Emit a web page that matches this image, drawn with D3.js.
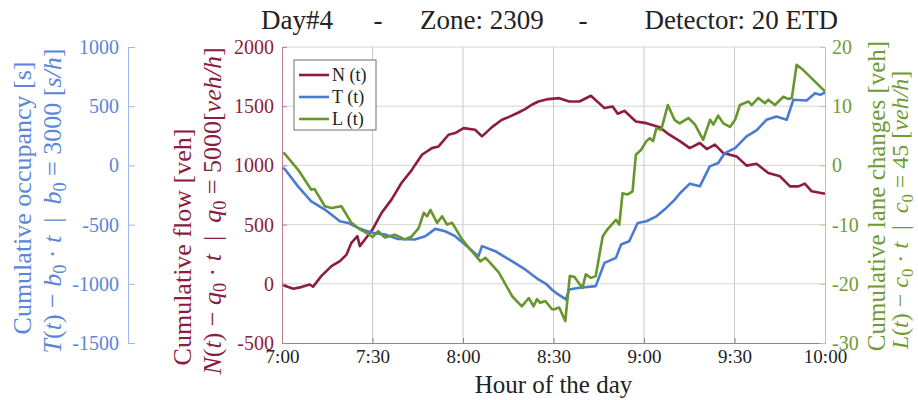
<!DOCTYPE html>
<html>
<head>
<meta charset="utf-8">
<script src="https://cdn.jsdelivr.net/npm/d3@7"></script>
<style>
  body { margin: 0; background: #fff; }
  svg text { font-family: "Liberation Serif", "Times New Roman", serif; }
</style>
</head>
<body>
<svg id="chart"></svg>
<script>
// Tick labels
const xTickLabels = ["7:00", "7:30", "8:00", "8:30", "9:00", "9:30", "10:00"];
const flowTicks = [-500, 0, 500, 1000, 1500, 2000];
const occTicks = [-1500, -1000, -500, 0, 500, 1000];
const laneTicks = [-30, -20, -10, 0, 10, 20];

// N(t) - q0*t  (minutes after 7:00, veh)
const nMinutes = [0, 0.7, 3.7, 6.4, 9.2, 10.3, 13, 16.4, 19.2, 21.4, 23, 25, 25.8, 27.5, 30, 33, 36.3, 39.6, 43, 44,
  46.4, 49.7, 51.9, 55.2, 57.4, 60.2, 64, 66.3, 69.6, 72.9, 75.1, 78.4, 80.6, 82.8, 85, 88.3, 91.9, 95.2, 98.6,
  102.4, 106.9, 109.6, 111.3, 113.5, 117.3, 120.8, 125.2, 128.4, 132, 135.2, 138.5, 140.8, 143.5, 146.3, 150.7,
  154, 157.3, 161.2, 165.1, 168.4, 171.2, 173.3, 175.6, 180];
const nFlow = [-5, -14, -42, -28, -6, -25, 65, 149, 191, 247, 346, 402, 318, 374, 458, 599, 711, 851, 960, 1000,
  1090, 1146, 1160, 1259, 1273, 1315, 1301, 1245, 1323, 1385, 1408, 1447, 1475, 1512, 1540, 1560, 1568, 1540, 1540,
  1588, 1484, 1498, 1436, 1461, 1371, 1357, 1323, 1259, 1203, 1146, 1189, 1138, 1175, 1104, 1076,
  998, 1014, 936, 908, 823, 823, 846, 781, 761];

// T(t) - b0*t  (minutes after 7:00, s)
const tMinutes = [0, 0.9, 5.3, 9.7, 14.2, 19.2, 21.9, 25.2, 30, 34.1, 38.5, 44, 47.5, 50.8, 54.1, 57.4, 61.3, 65.1,
  66.3, 70.7, 76.2, 80.6, 85, 87.5, 89.5, 90.8, 94.1, 95.2, 98.6, 104, 106.9, 110.7, 112.4, 115.1, 117.9, 120.8,
  124.1, 127.4, 130.2, 132, 135.2, 138.5, 141.8, 144.6, 146.8, 150.2, 154, 157.3, 160.6, 163.9, 167.3, 169.5,
  173.9, 176.7, 178.4, 180];
const tOccupancy = [-20, -31, -177, -303, -373, -472, -486, -528, -570, -584, -621, -626, -598, -536, -556, -598, -682, -767,
  -682, -725, -809, -879, -963, -1000, -1050, -1076, -1132, -1048, -1034, -1020, -823, -781, -668, -640, -486, -472,
  -430, -359, -289, -233, -154, -177, -8, 20, 104, 146, 245, 295, 385, 413, 385, 554,
  548, 610, 596, 616];

// L(t) - c0*t  (minutes after 7:00, veh)
const lMinutes = [0.5, 5.3, 9.7, 10.8, 14.2, 16.4, 19.7, 23, 25.8, 28, 30, 31.9, 34.1, 37.4, 40.7, 43, 45.3, 47, 48.1,
  49.2, 51.4, 53.1, 54.7, 56.4, 59.7, 62.4, 65.8, 67.4, 69.1, 71.9, 76.3, 79.5, 81.8, 83.4, 84.5, 85.6, 87.3, 89.5,
  90.3, 91.9, 93.9, 95.4, 96.9, 99.6, 100.7, 102.4, 104, 106.3, 107.9, 110.7, 111.8, 112.9, 114.6, 116.2, 117.3,
  119, 120.8, 121.9, 123, 124.1, 125.7, 127.9, 130.1, 131.8, 134.7, 136.9, 139.6, 141.9, 143, 144.6, 146.3, 148.5,
  150.2, 151.8, 154.6, 155.7, 157.9, 160.1, 161.2, 163.4, 166.2, 167.9, 169, 170.6, 172.8, 175, 180];
const lLaneChanges = [2.2, -0.7, -4.1, -4.0, -6.9, -7.2, -6.9, -9.7, -10.8, -11.4, -12.1, -11.1, -12.2, -11.7, -12.5, -12.0, -10.6, -8.0, -8.6,
  -7.5, -9.7, -8.6, -10.0, -9.7, -12.5, -14.2, -16.2, -15.6, -16.5, -18.1, -22.1, -23.8, -22.4, -23.8, -22.6, -23.2, -22.9, -24.3,
  -24.3, -24.0, -26.3, -18.7, -18.8, -20.7, -18.4, -19.0, -18.7, -12.0, -10.8, -9.2, -10.0, -4.7, -4.9, -4.4, 1.8,
  2.6, 4.1, 4.6, 4.1, 6.3, 6.0, 10.2, 7.7, 7.1, 8.0, 6.9, 4.3, 7.7, 6.9, 8.4, 7.1, 6.5,
  7.7, 10.2, 10.8, 10.2, 11.4, 10.5, 11.1, 10.2, 11.6, 11.2, 11.4, 17.0, 16.1, 15.0, 12.5];

const red = "#8c1c40", blue = "#4a7bd2", green = "#67972c";
const blueText = "#5a87d8", greenText = "#6f9b34";

const margin = { top: 47, right: 93, bottom: 57, left: 282 },
      width = 918 - margin.left - margin.right,
      height = 400 - margin.top - margin.bottom;

const svg = d3.select("#chart").attr("width", 918).attr("height", 400);
const g = svg.append("g").attr("transform", `translate(${margin.left},${margin.top})`);

const parseTime = d3.timeParse("%H:%M");
const atMinute = m => new Date(parseTime("7:00").getTime() + m * 60000);
const xTicks = xTickLabels.map(parseTime);

// Scales
const x = d3.scaleTime().domain([parseTime("7:00"), parseTime("10:00")]).range([0, width]);
const yN = d3.scaleLinear().domain([-500, 2000]).range([height, 0]);
const yT = d3.scaleLinear().domain([-1500, 1000]).range([height, 0]);
const yL = d3.scaleLinear().domain([-30, 20]).range([height, 0]);

// Grid
g.append("g").selectAll("line").data(xTicks.slice(1, -1)).join("line")
  .attr("x1", d => x(d)).attr("x2", d => x(d)).attr("y1", 0).attr("y2", height)
  .attr("stroke", "#c9c9c9").attr("stroke-width", 1);
g.append("g").selectAll("line").data(flowTicks.slice(1)).join("line")
  .attr("x1", 0).attr("x2", width).attr("y1", d => yN(d)).attr("y2", d => yN(d))
  .attr("stroke", "#d6d6d6").attr("stroke-width", 1);

// Lines
function drawLine(times, values, y, color) {
  const pts = times.map((m, i) => [atMinute(m), values[i]]);
  g.append("path").datum(pts)
    .attr("fill", "none").attr("stroke", color).attr("stroke-width", 2.6)
    .attr("stroke-linejoin", "round")
    .attr("d", d3.line().x(d => x(d[0])).y(d => y(d[1])));
}
drawLine(nMinutes, nFlow, yN, red);
drawLine(tMinutes, tOccupancy, yT, blue);
drawLine(lMinutes, lLaneChanges, yL, green);

// Axes
function styleAxis(sel, lineColor, textColor, size) {
  sel.attr("font-size", size).attr("font-family", null);
  sel.select(".domain").attr("stroke", lineColor);
  sel.selectAll(".tick line").attr("stroke", lineColor);
  sel.selectAll(".tick text").attr("fill", textColor);
}
const plain = d => String(d);

g.append("g").attr("transform", `translate(0,${height})`)
  .call(d3.axisBottom(x).tickValues(xTicks).tickFormat(d3.timeFormat("%-H:%M"))
    .tickSizeInner(-5).tickSizeOuter(0).tickPadding(7))
  .call(s => styleAxis(s, "#8a8a8a", "#222", 19));

g.append("g")
  .call(d3.axisLeft(yN).tickValues(flowTicks).tickFormat(plain).tickSizeInner(-5).tickSizeOuter(0).tickPadding(8))
  .call(s => styleAxis(s, "#c27b93", red, 20));

g.append("g").attr("transform", "translate(-154,0)")
  .call(d3.axisLeft(yT).tickValues(occTicks).tickFormat(plain).tickSizeInner(-7).tickSizeOuter(0).tickPadding(9))
  .call(s => styleAxis(s, "#9db8e8", blueText, 20));

g.append("g").attr("transform", `translate(${width},0)`)
  .call(d3.axisRight(yL).tickValues(laneTicks).tickFormat(plain).tickSizeInner(-5).tickSizeOuter(0).tickPadding(7))
  .call(s => styleAxis(s, "#b5cf8e", greenText, 20));

// Title
const title = [["Day#4", 261, "start"], ["-", 378, "middle"], ["Zone: 2309", 420, "start"], ["-", 583, "middle"], ["Detector: 20 ETD", 838, "end"]];
svg.append("g").selectAll("text").data(title).join("text")
  .attr("x", d => d[1]).attr("y", 29).attr("text-anchor", d => d[2])
  .attr("font-size", 27).attr("fill", "#222").text(d => d[0]);

// X label
svg.append("text").attr("x", margin.left + width / 2).attr("y", 393)
  .attr("text-anchor", "middle").attr("font-size", 25).attr("fill", "#222")
  .text("Hour of the day");

// Rotated axis labels
function label(cx, cy, size, color, parts) {
  const t = svg.append("text")
    .attr("transform", `translate(${cx},${cy}) rotate(-90)`)
    .attr("text-anchor", "middle").attr("dominant-baseline", "central")
    .attr("font-size", size).attr("fill", color).style("white-space", "pre");
  let shift = 0;
  parts.forEach(([s, it, sub]) => {
    const ts = t.append("tspan").text(s);
    if (it) ts.attr("font-style", "italic");
    const target = sub ? size * 0.3 : 0;
    if (target !== shift) { ts.attr("dy", target - shift); shift = target; }
    if (sub) ts.attr("font-size", size * 0.7);
  });
}

label(22, 198, 26, blueText, [["Cumulative occupancy [s]"]]);
label(52, 201, 26, blueText, [["T", 1], ["("], ["t", 1], [") − "], ["b", 1], ["0", 0, 1], [" · "], ["t", 1],
  ["  |  "], ["b", 1], ["0", 0, 1], [" = 3000 ["], ["s/h", 1], ["]"]]);
label(182, 247, 26, red, [["Cumulative flow [veh]"]]);
label(212, 211, 26, red, [["N", 1], ["("], ["t", 1], [") − "], ["q", 1], ["0", 0, 1], [" · "], ["t", 1],
  ["  |  "], ["q", 1], ["0", 0, 1], [" = 5000["], ["veh/h", 1], ["]"]]);
label(876, 196, 25, greenText, [["Cumulative lane changes [veh]"]]);
label(900, 210, 24, greenText, [["L", 1], ["("], ["t", 1], [") − "], ["c", 1], ["0", 0, 1], [" · "], ["t", 1],
  ["  |  "], ["c", 1], ["0", 0, 1], [" = 45 ["], ["veh/h", 1], ["]"]]);

// Legend
const legendItems = ["N (t)", "T (t)", "L (t)"];
const legendColors = [red, blue, green];
const legend = g.append("g").attr("transform", "translate(12,13)");
legend.append("rect").attr("width", 82).attr("height", 70)
  .attr("fill", "#fff").attr("stroke", "#6e6e6e").attr("stroke-width", 1);
legendItems.forEach((name, i) => {
  const yy = 15 + i * 22;
  legend.append("line").attr("x1", 5).attr("x2", 35).attr("y1", yy).attr("y2", yy)
    .attr("stroke", legendColors[i]).attr("stroke-width", 2.6);
  legend.append("text").attr("x", 38).attr("y", yy).attr("dy", "0.33em")
    .attr("font-size", 18).attr("fill", "#222").text(name);
});
</script>
</body>
</html>
